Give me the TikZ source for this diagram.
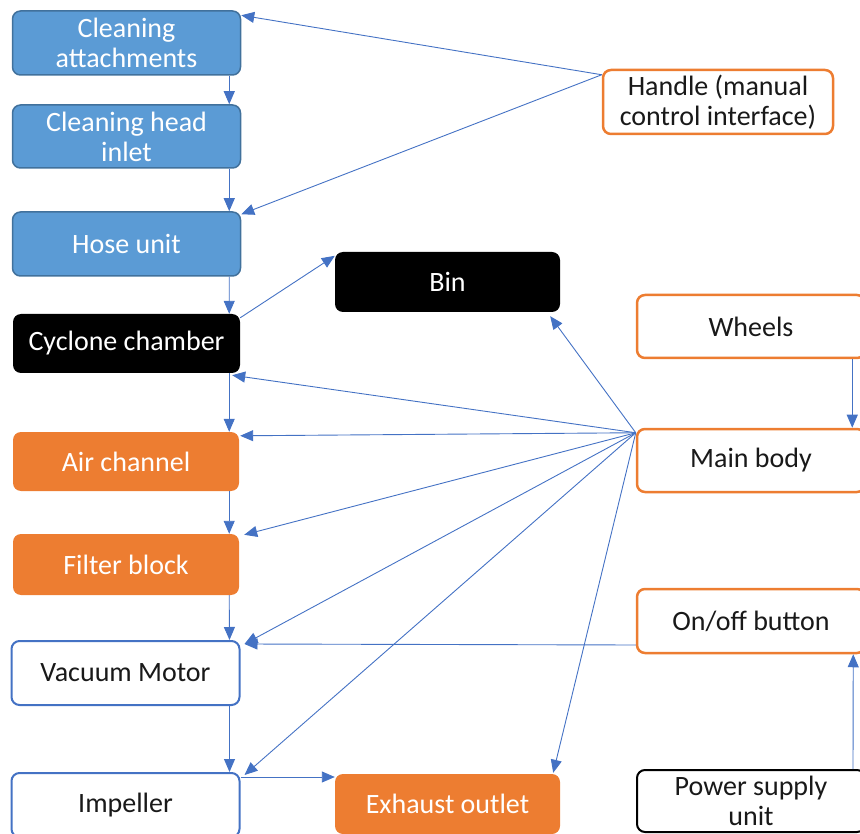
\documentclass[tikz,border=0pt]{standalone}
\usepackage{fontspec}
\setmainfont{Carlito}
\usetikzlibrary{arrows.meta,calc}
\definecolor{boxblue}{HTML}{5B9BD5}
\definecolor{boxblueline}{HTML}{41719C}
\definecolor{boxorange}{HTML}{ED7D31}
\definecolor{linkblue}{HTML}{4472C4}
\tikzset{
  base/.style={rectangle, rounded corners=8pt, align=center, inner sep=0pt,
    font=\fontsize{28}{30}\selectfont, minimum width=228pt, minimum height=63pt},
  bluebox/.style={base, fill=boxblue, draw=boxblueline, line width=1.5pt, text=white},
  blackbox/.style={base, fill=black, text=white},
  orangebox/.style={base, fill=boxorange, text=white},
  orangeline/.style={base, fill=white, draw=boxorange, line width=2.5pt, text=black!90},
  blueline/.style={base, fill=white, draw=linkblue, line width=2pt, text=black!90},
  darkline/.style={base, fill=white, draw=black, line width=2pt, text=black!90},
  link/.style={draw=linkblue, line width=0.9pt, -{Triangle[length=13pt,width=11pt]}}
}
\begin{document}
\begin{tikzpicture}[x=1pt,y=-1pt]
\useasboundingbox (0,0) rectangle (860,834);
% left column: air path
\node[bluebox, minimum height=64pt] (attach) at (126.5,43) {Cleaning\\attachments};
\node[bluebox] (head) at (126.5,136.5) {Cleaning head\\inlet};
\node[bluebox, minimum height=64pt] (hose) at (126.5,244) {Hose unit};
\node[blackbox, minimum width=227pt, minimum height=59pt] (cyclone) at (126.5,343.5) {Cyclone chamber};
\node[blackbox, minimum width=225pt, minimum height=60pt] (bin) at (447.5,282) {Bin};
\node[orangebox, minimum width=226pt, minimum height=59pt] (air) at (126,461.5) {Air channel};
\node[orangebox, minimum width=226pt, minimum height=61pt] (filter) at (126,564.5) {Filter block};
\node[blueline, minimum height=64pt] (vacuum) at (125.5,673) {Vacuum Motor};
\node[blueline, minimum height=64pt] (impeller) at (125.5,805) {Impeller};
\node[orangebox, minimum width=225pt, minimum height=60pt] (exhaust) at (447.5,804) {Exhaust outlet};
% right column: body and controls
\node[orangeline, minimum width=230pt, minimum height=64pt] (handle) at (718,102) {Handle (manual\\control interface)};
\node[orangeline] (wheels) at (751,326.5) {Wheels};
\node[orangeline] (main) at (751,460.5) {Main body};
\node[orangeline, minimum height=64pt] (onoff) at (751,621) {On/off button};
\node[darkline, minimum height=62pt] (power) at (751,801) {Power supply\\unit};
% handle connections
\coordinate (hnd) at ($(handle.north west)+(0,6)$);
\draw[link] (hnd) -- ($(attach.north east)+(0,5)$);
\draw[link] (hnd) -- ($(hose.north east)+(0,3)$);
% main air path
\draw[link] ($(attach.south east)+(-12,0)$) -- ($(head.north east)+(-12,0)$);
\draw[link] ($(head.south east)+(-12,0)$) -- ($(hose.north east)+(-12,0)$);
\draw[link] ($(hose.south east)+(-12,0)$) -- ($(cyclone.north east)+(-11,0)$);
\draw[link] ($(cyclone.north east)+(0,4)$) -- ($(bin.north west)+(0,4)$);
\draw[link] ($(cyclone.south east)+(-11,0)$) -- ($(air.north east)+(-10,0)$);
\draw[link] ($(air.south east)+(-10,0)$) -- ($(filter.north east)+(-10,0)$);
\draw[link] ($(filter.south east)+(-10,0)$) -- ($(vacuum.north east)+(-11,0)$);
\draw[link] ($(vacuum.south east)+(-11,0)$) -- ($(impeller.north east)+(-11,0)$);
\coordinate (imp) at ($(impeller.north east)+(0,5)$);
\draw[link] (imp) -- (exhaust.west |- imp);
% main body fan-out
\coordinate (mb) at ($(main.north west)+(0,5)$);
\draw[link] (mb) -- ($(bin.south east)+(-10,4)$);
\draw[link] (mb) -- ($(cyclone.south east)+(-8,2)$);
\draw[link] (mb) -- ($(air.north east)+(1,4)$);
\draw[link] (mb) -- ($(filter.north east)+(5,1)$);
\draw[link] (mb) -- ($(vacuum.north east)+(4,4)$);
\draw[link] (mb) -- ($(impeller.north east)+(4,3)$);
\draw[link] (mb) -- ($(exhaust.north east)+(-7,-1)$);
% controls
\draw[link] ($(wheels.south east)+(-14,0)$) -- ($(main.north east)+(-14,0)$);
\draw[link] (onoff.west |- 0,645) -- ($(vacuum.north east)+(4,4)$);
\draw[link] ($(power.north east)+(-13,0)$) -- ($(onoff.south east)+(-13,0)$);
\end{tikzpicture}
\end{document}
